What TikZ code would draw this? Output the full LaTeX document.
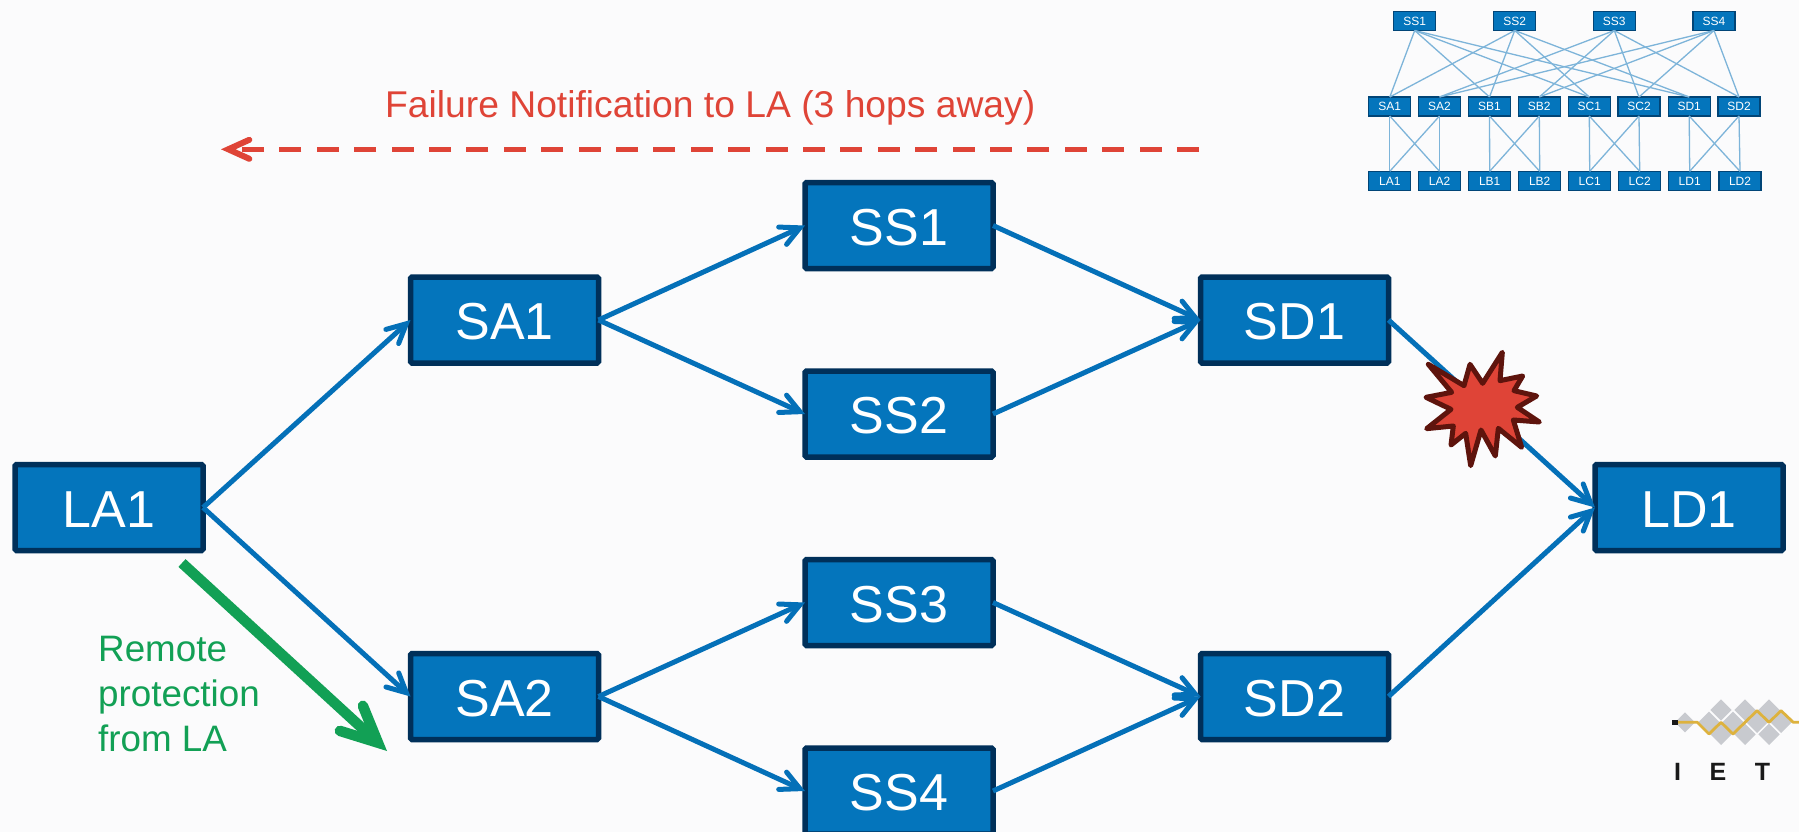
\documentclass[tikz,border=0pt]{standalone}
\usepackage{fontspec}
\setmainfont{Liberation Sans}
\usetikzlibrary{arrows.meta}
\definecolor{bgc}{HTML}{FBFBFC}
\definecolor{boxfill}{HTML}{0475BC}
\definecolor{boxedge}{HTML}{00305A}
\definecolor{linkblue}{HTML}{0470B8}
\definecolor{thinlink}{HTML}{7DB4D9}
\definecolor{redc}{HTML}{DF4437}
\definecolor{darkred}{HTML}{5E140D}
\definecolor{greenc}{HTML}{12A055}
\definecolor{logogrey}{HTML}{C8CACF}
\definecolor{logoyellow}{HTML}{DDB23E}
\tikzset{
  bigbox/.style={rectangle,draw=boxedge,fill=boxfill,line width=5.5pt,rounded corners=1.5pt,
    minimum width=188pt,minimum height=86pt,inner sep=0pt,outer sep=0pt,text=white,
    font=\fontsize{52}{60}\selectfont,text height=39.5pt,text depth=0pt},
  smallbox/.style={rectangle,draw=boxedge!70!boxfill,fill=boxfill,line width=1.2pt,
    minimum width=42pt,minimum height=19pt,inner sep=0pt,outer sep=0pt,text=white,
    font=\fontsize{12}{14}\selectfont,text height=8.6pt,text depth=0pt},
  biglink/.style={draw=linkblue,line width=5pt,
    -{Straight Barb[length=19pt,width=19pt,line cap=round,line join=miter]}},
  thin link/.style={draw=thinlink,line width=1.3pt},
  failarrow/.style={draw=redc,line width=5.5pt,dash pattern=on 22pt off 15.4pt,
    -{Straight Barb[length=21pt,width=19pt,line cap=round,line join=miter,line width=6pt,sep=0pt]}},
  protectarrow/.style={draw=greenc,line width=10.5pt,
    -{Straight Barb[length=36pt,width=34pt,line cap=round,line join=miter]}},
}
\begin{document}
\begin{tikzpicture}[x=1pt,y=-1pt]
\useasboundingbox (0,0) rectangle (1799,832);
\fill[bgc] (0,0) rectangle (1799,832);

% small overview graph
\foreach \n/\x in {SS1/1414.7,SS2/1514.7,SS3/1614.3,SS4/1714}
  \node[smallbox] (t\n) at (\x,21) {\n};
\foreach \n/\x in {SA1/1389.8,SA2/1439.5,SB1/1489.5,SB2/1539.3,SC1/1589.3,SC2/1639,SD1/1689.2,SD2/1739}
  \node[smallbox] (t\n) at (\x,106.5) {\n};
\foreach \n/\x in {LA1/1389.8,LA2/1439.5,LB1/1489.7,LB2/1539.7,LC1/1589.7,LC2/1639.7,LD1/1689.7,LD2/1740}
  \node[smallbox] (t\n) at (\x,180.8) {\n};
\foreach \s in {SS1,SS2}
  \foreach \m in {SA1,SB1,SC1,SD1}
    \draw[thin link] (t\s.south) -- (t\m.north);
\foreach \s in {SS3,SS4}
  \foreach \m in {SA2,SB2,SC2,SD2}
    \draw[thin link] (t\s.south) -- (t\m.north);
\foreach \u/\v/\p/\q in {SA1/SA2/LA1/LA2,SB1/SB2/LB1/LB2,SC1/SC2/LC1/LC2,SD1/SD2/LD1/LD2}{
  \draw[thin link] (t\u.south) -- (t\p.north);
  \draw[thin link] (t\u.south) -- (t\q.north);
  \draw[thin link] (t\v.south) -- (t\p.north);
  \draw[thin link] (t\v.south) -- (t\q.north);
}

% main boxes
\node[bigbox] (LA1) at (109,507.5) {LA1};
\node[bigbox] (SA1) at (504.5,320) {SA1};
\node[bigbox] (SA2) at (504.5,696.5) {SA2};
\node[bigbox] (SS1) at (899,225.5) {SS1};
\node[bigbox] (SS2) at (899,414) {SS2};
\node[bigbox] (SS3) at (899,602.5) {SS3};
\node[bigbox] (SS4) at (899,791) {SS4};
\node[bigbox] (SD1) at (1294.5,320) {SD1};
\node[bigbox] (SD2) at (1294.5,696.5) {SD2};
\node[bigbox] (LD1) at (1689,507.5) {LD1};

\draw[biglink] (LA1.east) -- (SA1.west);
\draw[biglink] (LA1.east) -- (SA2.west);
\draw[biglink] (SA1.east) -- (SS1.west);
\draw[biglink] (SA1.east) -- (SS2.west);
\draw[biglink] (SA2.east) -- (SS3.west);
\draw[biglink] (SA2.east) -- (SS4.west);
\draw[biglink] (SS1.east) -- (SD1.west);
\draw[biglink] (SS2.east) -- (SD1.west);
\draw[biglink] (SS3.east) -- (SD2.west);
\draw[biglink] (SS4.east) -- (SD2.west);
\draw[biglink] (SD1.east) -- (LD1.west);
\draw[biglink] (SD2.east) -- (LD1.west);

% failure burst (3x zoom coordinates mapped to pixels)
\begin{scope}[shift={(1370,320)},x=0.3333pt,y=-0.3333pt]
\draw[fill=redc,draw=darkred,line width=5pt,line join=round]
  (175,133)--(282,197)--(300,133)--(338,190)--(397,97)--(390,182)--(458,168)--(432,212)
  --(500,228)--(442,262)--(508,306)--(430,300)--(455,382)--(385,325)--(376,408)--(333,330)
  --(302,437)--(287,340)--(243,375)--(250,318)--(170,326)--(243,268)--(168,232)--(245,217)--cycle;
\end{scope}

% failure notification
\node[anchor=base west,inner sep=0pt,text=redc,font=\fontsize{37.25}{44}\selectfont] (failtext) at (385,117.3)
  {Failure Notification to LA (3 hops away)};
\coordinate (failstart) at (1199,149.3);
\coordinate (failend) at (221,149.3);
\draw[failarrow] (failstart) -- (failend);

% remote protection
\node[anchor=base west,inner sep=0pt,text=greenc,align=left,font=\fontsize{36.8}{45}\selectfont] (prottext) at (98,751)
  {Remote\\protection\\from LA};
\coordinate (protstart) at (182,563);
\coordinate (protend) at (387,751);
\draw[protectarrow] (protstart) -- (protend);

% logo
\begin{scope}[shift={(1640,680)},x=0.3333pt,y=-0.3333pt]
\fill[logogrey] (135,97)--(165,127)--(135,157)--(105,127)--cycle;
\foreach \cx/\cy in {243/90,315/90,387/90,207/127,279/127,351/127,423/127,243/163,315/163,387/163}
  \fill[logogrey] (\cx,\cy-32)--(\cx+32,\cy)--(\cx,\cy+32)--(\cx-32,\cy)--cycle;
\draw[logoyellow,line width=2.8pt,line join=round]
  (112,127)--(172,127)--(207,162)--(243,127)--(279,162)--(351,92)--(387,127)--(423,92)--(460,127)--(477,127);
\fill[black!90] (97,121) rectangle (113,134);
\end{scope}
\node[anchor=base west,inner sep=0pt,text=black!90,font=\bfseries\fontsize{25}{28}\selectfont] (logotext) at (1674,780.5)
  {\spaceskip=28.5pt I E T};
\end{tikzpicture}
\end{document}
